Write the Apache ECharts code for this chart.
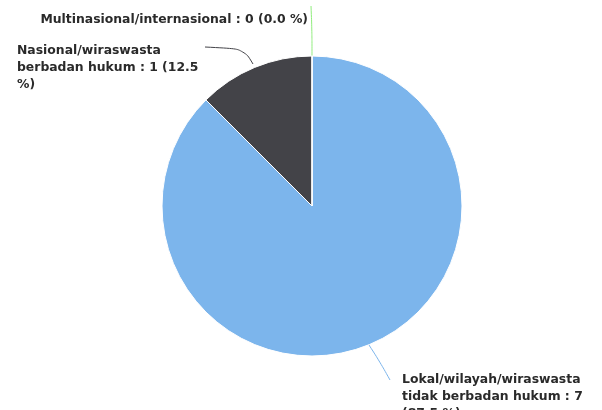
<!DOCTYPE html>
<html>
<head>
<meta charset="utf-8">
<script src="https://cdn.jsdelivr.net/npm/echarts@6/dist/echarts.min.js"></script>
<style>
html,body{margin:0;padding:0;background:#fff;}
#chart{width:602px;height:410px;}
</style>
</head>
<body>
<div id="chart"></div>
<script>
var categories = [
  'Lokal/wilayah/wiraswasta tidak berbadan hukum',
  'Nasional/wiraswasta berbadan hukum',
  'Multinasional/internasional'
];
var values = [7, 1, 0];
var colors = ['#7cb5ec', '#434348', '#90ed7d'];
var labelWidths = [194, 192, 320];

var chart = echarts.init(document.getElementById('chart'), null, {renderer: 'canvas'});
var total = values.reduce(function (a, b) { return a + b; }, 0);

var data = categories.map(function (name, i) {
  return {
    name: name,
    value: values[i],
    itemStyle: {color: colors[i]},
    label: {width: labelWidths[i]},
    labelLine: {lineStyle: {color: colors[i]}}
  };
});

var layouts = [
  {x: 402, y: 371, align: 'left', line: [[369, 345], [380, 362], [390, 380]]},
  {x: 17, y: 42, align: 'left', line: [[253, 64], [244, 49], [205, 47]]},
  {x: 308, y: 11, align: 'right', line: [[312, 57], [312, 30], [311, 6]]}
];

chart.setOption({
  backgroundColor: '#ffffff',
  animation: false,
  series: [{
    type: 'pie',
    center: [312, 206],
    radius: 150,
    startAngle: 90,
    clockwise: true,
    stillShowZeroSum: true,
    minShowLabelAngle: 0,
    avoidLabelOverlap: false,
    itemStyle: {borderColor: '#ffffff', borderWidth: 1},
    label: {
      show: true,
      position: 'outside',
      color: '#2a2a2a',
      fontFamily: 'DejaVu Sans',
      fontWeight: 'bold',
      fontSize: 12.4,
      lineHeight: 17,
      overflow: 'break',
      formatter: function (p) {
        var pct = (total ? (p.value / total * 100) : 0).toFixed(1);
        return p.name + ' : ' + p.value + ' (' + pct + ' %)';
      }
    },
    labelLine: {show: true, smooth: 0.4, lineStyle: {width: 1}},
    labelLayout: function (params) {
      var l = layouts[params.dataIndex];
      return {
        x: l.x,
        y: l.y,
        align: l.align,
        verticalAlign: 'top',
        labelLinePoints: l.line
      };
    },
    data: data
  }]
});
</script>
</body>
</html>
